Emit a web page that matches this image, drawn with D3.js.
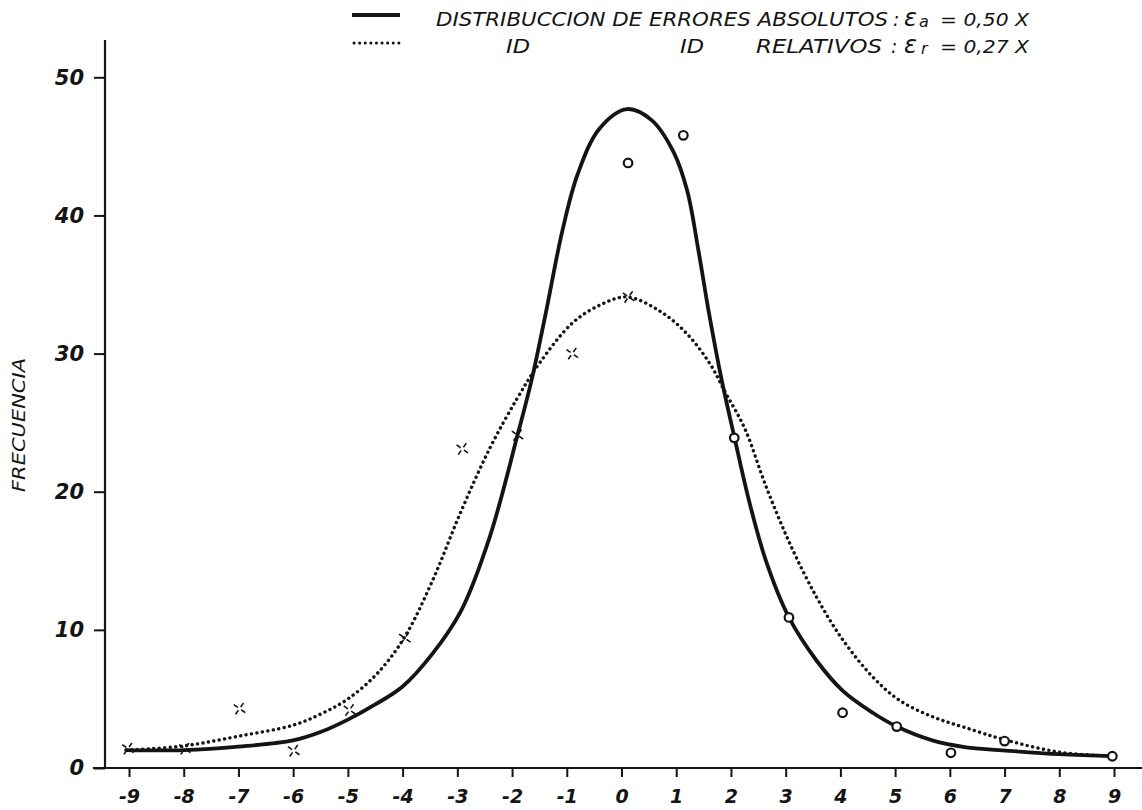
<!DOCTYPE html>
<html><head><meta charset="utf-8">
<script src="https://cdn.jsdelivr.net/npm/d3@7"></script>
<style>html,body{margin:0;background:#fff}</style>
</head><body>
<svg id="chart" width="1142" height="810"></svg>
<script>
// ---- data ----
const xTickValues = [-9,-8,-7,-6,-5,-4,-3,-2,-1,0,1,2,3,4,5,6,7,8,9];
const yTickValues = [0,10,20,30,40,50];

// solid curve: distribution of absolute errors
const absCurveX = [-9.05,-8,-7,-6,-5.5,-5,-4.5,-4,-3.45,-2.93,-2.41,-1.9,-1.63,-1.38,-1.08,-0.8,-0.4,0.1,0.55,0.95,1.2,1.4,1.6,1.82,2.06,2.34,2.64,3.06,3.56,4.04,4.59,5.03,5.68,6.3,6.9,8,9];
const absCurveY = [1.3,1.3,1.55,2.0,2.6,3.5,4.6,5.9,8.3,11.4,16.7,24.1,28.3,33.0,38.9,43.0,46.3,47.7,46.9,44.6,41.8,37.6,32.9,28.3,24.0,19.2,15.0,10.9,7.8,5.6,4.0,3.0,2.0,1.5,1.3,1.0,0.85];

// dotted curve: distribution of relative errors
const relCurveX = [-9.05,-8,-7,-6,-5.5,-5,-4.45,-3.96,-3.45,-2.93,-2.4,-1.9,-1.5,-0.9,-0.4,0.1,0.69,1.18,1.61,1.91,2.25,2.64,3.07,3.56,4.04,4.59,5.08,5.69,6.3,7.0,8,9];
const relCurveY = [1.3,1.6,2.3,3.1,3.9,5.0,6.9,9.5,13.6,18.6,23.2,26.8,29.3,32.2,33.5,34.1,33.1,31.5,29.3,27.1,24.6,20.4,16.3,12.4,9.3,6.6,4.9,3.7,2.9,2.05,1.15,0.85];

// observed points
const crossX = [-9.02,-7.98,-6.98,-5.99,-4.97,-3.96,-2.91,-1.9,-0.9,0.13];
const crossY = [1.4,1.4,4.3,1.25,4.2,9.4,23.1,24.1,30.0,34.1];
const circleX = [0.12,1.13,2.06,3.06,4.04,5.03,6.02,7.0,8.97];
const circleY = [43.8,45.8,23.9,10.9,4.0,3.0,1.1,1.95,0.85];

const yLabel = "FRECUENCIA";
const legendRow1 = ["DISTRIBUCCION DE ERRORES ABSOLUTOS", ":", "ε", "a", "= 0,50 X"];
const legendRow2 = ["ID", "ID", "RELATIVOS", ":", "ε", "r", "= 0,27 X"];

// ---- drawing ----
const ink = "#141414";
const font = "'DejaVu Sans', sans-serif";
const svg = d3.select("#chart");
svg.append("rect").attr("width",1142).attr("height",810).attr("fill","#fff");

const x = d3.scaleLinear().domain([-9, 9]).range([129, 1114]);
const y = d3.scaleLinear().domain([0, 52.7]).range([768, 40]);

// x axis
const xAxis = svg.append("g").attr("transform", `translate(0,${y(0)})`)
  .call(d3.axisBottom(x).tickValues(xTickValues).tickSize(9).tickPadding(13)
        .tickFormat(d => String(d)));
xAxis.select(".domain").remove();
xAxis.append("line").attr("x1", x(-9.66)).attr("x2", x(9.52)).attr("y1",0).attr("y2",0)
  .attr("stroke", ink).attr("stroke-width", 2.2);
xAxis.selectAll(".tick line").attr("stroke", ink).attr("stroke-width", 2);
xAxis.selectAll(".tick text").attr("fill", ink).attr("font-family", font)
  .attr("font-size", 19).attr("font-weight", "bold").attr("font-style", "italic");

// y axis
const yAxis = svg.append("g").attr("transform", `translate(${x(-9) - 24},0)`)
  .call(d3.axisLeft(y).tickValues(yTickValues).tickSize(11).tickPadding(10));
yAxis.select(".domain").attr("stroke", ink).attr("stroke-width", 2.2)
  .attr("d", `M0,${y(0)}V${y(52.7)}`);
yAxis.selectAll(".tick line").attr("stroke", ink).attr("stroke-width", 2);
yAxis.selectAll(".tick text").attr("fill", ink).attr("font-family", font)
  .attr("font-size", 21).attr("font-weight", "bold").attr("font-style", "italic");

svg.append("text").attr("transform", "translate(25,425) rotate(-90)")
  .attr("text-anchor", "middle").attr("font-family", font).attr("font-size", 17)
  .attr("font-style", "italic").attr("fill", ink)
  .attr("textLength", 134).attr("lengthAdjust", "spacingAndGlyphs").text(yLabel);

// curves
const line = d3.line().x(d => x(d[0])).y(d => y(d[1])).curve(d3.curveCatmullRom.alpha(0.5));
const absData = absCurveX.map((v,i) => [v, absCurveY[i]]);
const relData = relCurveX.map((v,i) => [v, relCurveY[i]]);

svg.append("path").attr("d", line(relData)).attr("fill","none").attr("stroke", ink)
  .attr("stroke-width", 3.4).attr("stroke-linecap","round").attr("stroke-dasharray","0.1,5.4");
svg.append("path").attr("d", line(absData)).attr("fill","none").attr("stroke", ink)
  .attr("stroke-width", 3.8).attr("stroke-linecap","round");

// cross markers
const crosses = svg.append("g");
crossX.forEach((cx, i) => {
  const g = crosses.append("g").attr("transform", `translate(${x(cx)},${y(crossY[i])}) rotate(35)`);
  [0, 90, 180, 270].forEach(a => {
    const r = a * Math.PI / 180;
    g.append("line").attr("x1", 2 * Math.cos(r)).attr("y1", 2 * Math.sin(r))
      .attr("x2", 7 * Math.cos(r)).attr("y2", 7 * Math.sin(r))
      .attr("stroke", ink).attr("stroke-width", 1.6);
  });
});

// circle markers
svg.append("g").selectAll("circle").data(circleX).join("circle")
  .attr("cx", d => x(d)).attr("cy", (d,i) => y(circleY[i])).attr("r", 4.3)
  .attr("fill", "#fff").attr("stroke", ink).attr("stroke-width", 2.2);

// legend
const lg = svg.append("g").attr("font-family", font).attr("font-style","italic").attr("fill", ink);
lg.append("line").attr("x1",352).attr("x2",400).attr("y1",15).attr("y2",15)
  .attr("stroke", ink).attr("stroke-width", 4);
lg.append("line").attr("x1",354).attr("x2",400).attr("y1",43).attr("y2",43)
  .attr("stroke", ink).attr("stroke-width", 3).attr("stroke-linecap","round").attr("stroke-dasharray","0.1,5.5");

function piece(txt, px, py, size, len) {
  const t = lg.append("text").attr("x", px).attr("y", py).attr("font-size", size).text(txt);
  if (len) t.attr("textLength", len).attr("lengthAdjust", "spacingAndGlyphs");
  return t;
}
piece(legendRow1[0], 436, 26, 19, 452);
piece(legendRow1[1], 893, 26, 19);
piece(legendRow1[2], 904, 26, 24);
piece(legendRow1[3], 919, 27, 16);
piece(legendRow1[4], 940, 26, 18, 89);

piece(legendRow2[0], 506, 53, 19, 24);
piece(legendRow2[1], 680, 53, 19, 24);
piece(legendRow2[2], 756, 53, 19, 126);
piece(legendRow2[3], 891, 53, 19);
piece(legendRow2[4], 904, 53, 24);
piece(legendRow2[5], 921, 54, 16);
piece(legendRow2[6], 940, 53, 18, 89);
</script>
</body></html>
